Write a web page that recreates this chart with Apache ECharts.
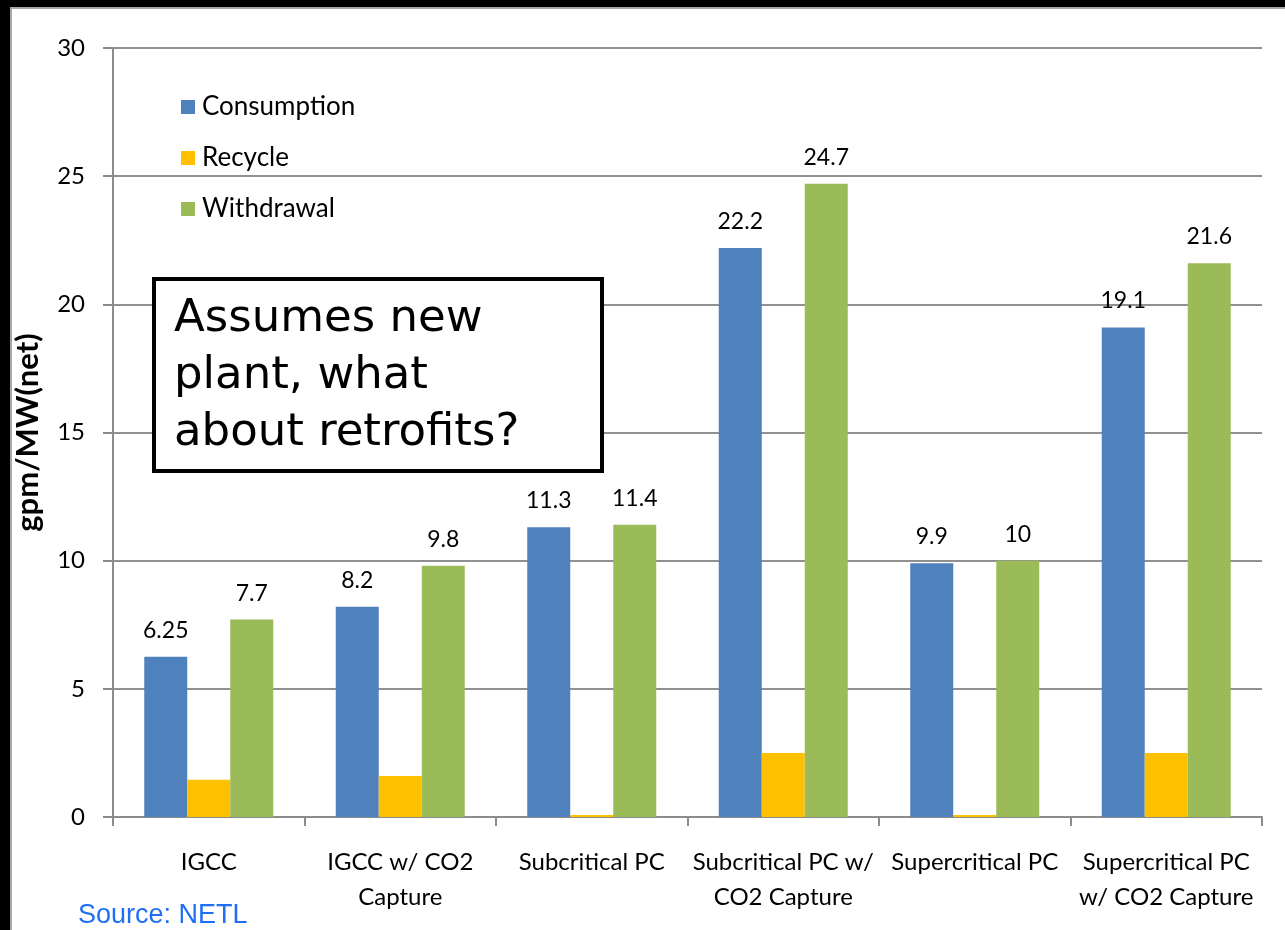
<!DOCTYPE html>
<html>
<head>
<meta charset="utf-8">
<script src="https://cdn.jsdelivr.net/npm/echarts@6/dist/echarts.min.js"></script>
<style>
html,body{margin:0;padding:0;background:#000;}
#wrap{position:relative;width:1285px;height:930px;background:#000;overflow:hidden;}
#paper{position:absolute;left:10px;top:7px;width:1285px;height:930px;background:#fff;border-left:2px solid #a8a8a8;border-top:2px solid #a8a8a8;}
#chart{position:absolute;left:0;top:0;width:1285px;height:930px;}
</style>
</head>
<body>
<div id="wrap"><div id="paper"></div><div id="chart"></div></div>
<script>
const categories = ['IGCC', 'IGCC w/ CO2\nCapture', 'Subcritical PC', 'Subcritical PC w/\nCO2 Capture', 'Supercritical PC', 'Supercritical PC\nw/ CO2 Capture'];
const consumption = [6.25, 8.2, 11.3, 22.2, 9.9, 19.1];
const recycle = [1.45, 1.6, 0.08, 2.5, 0.08, 2.5];
const withdrawal = [7.7, 9.8, 11.4, 24.7, 10, 21.6];
const yTicks = { min: 0, max: 30, interval: 5 };
const axisTitle = 'gpm/MW(net)';
const noteText = 'Assumes new\nplant, what\nabout retrofits?';
const sourceText = 'Source: NETL';

const chart = echarts.init(document.getElementById('chart'), null, { renderer: 'canvas' });
const labelFont = 'Lato, "Open Sans", sans-serif';
const valLabel = {
  show: true, position: 'top', distance: 15,
  color: '#000', fontSize: 23, fontFamily: labelFont
};
chart.setOption({
  backgroundColor: 'transparent',
  animation: false,
  grid: { left: 113, right: 23, top: 48, bottom: 113 },
  legend: {
    orient: 'vertical', left: 176, top: 88,
    itemWidth: 14, itemHeight: 14, itemGap: 23,
    icon: 'rect',
    textStyle: { fontSize: 26, lineHeight: 28, color: '#000', fontFamily: labelFont, padding: [0, 0, 0, 2] },
    data: ['Consumption', 'Recycle', 'Withdrawal']
  },
  xAxis: {
    type: 'category', data: categories,
    axisLine: { lineStyle: { color: '#8c8c8c', width: 2 } },
    axisTick: { show: true, length: 9, lineStyle: { color: '#8c8c8c', width: 2 } },
    axisLabel: { interval: 0, margin: 28, fontSize: 24, lineHeight: 35, color: '#000', fontFamily: labelFont }
  },
  yAxis: {
    type: 'value', min: yTicks.min, max: yTicks.max, interval: yTicks.interval,
    name: axisTitle, nameLocation: 'middle', nameGap: 70,
    nameTextStyle: { fontSize: 31, fontWeight: 'bold', color: '#000', fontFamily: labelFont },
    axisLine: { show: true, lineStyle: { color: '#8c8c8c', width: 2 } },
    axisTick: { show: true, inside: false, length: 10, lineStyle: { color: '#8c8c8c', width: 2 } },
    axisLabel: { margin: 28, fontSize: 24, color: '#000', fontFamily: labelFont },
    splitLine: { lineStyle: { color: '#909090', width: 2 } }
  },
  series: [
    { name: 'Consumption', type: 'bar', data: consumption, barWidth: 43, barGap: '0%',
      itemStyle: { color: '#4F81BD' }, label: valLabel },
    { name: 'Recycle', type: 'bar', data: recycle, barWidth: 43, barGap: '0%',
      itemStyle: { color: '#FFC000' } },
    { name: 'Withdrawal', type: 'bar', data: withdrawal, barWidth: 43, barGap: '0%',
      itemStyle: { color: '#9BBB59' }, label: valLabel }
  ],
  graphic: [
    { type: 'rect', z: 100, shape: { x: 154, y: 279, width: 448, height: 192 },
      style: { fill: '#fff', stroke: '#000', lineWidth: 4 } },
    { type: 'text', z: 101, left: 174, top: 291,
      style: { text: noteText, font: '45px "DejaVu Sans", sans-serif', fill: '#000', lineHeight: 57 } },
    { type: 'text', z: 101, left: 78, top: 902,
      style: { text: sourceText, font: '27px "Liberation Sans", Arial, sans-serif', fill: '#1f6ff5' } }
  ]
});
</script>
</body>
</html>
